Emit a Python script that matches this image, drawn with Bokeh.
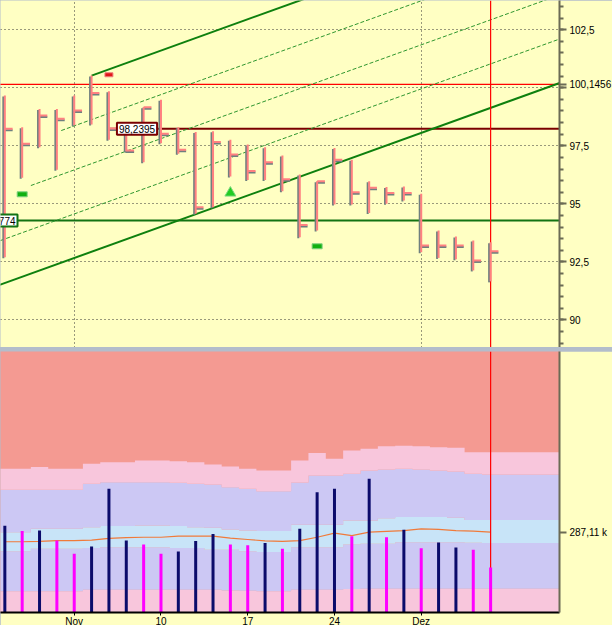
import numpy as np
from bokeh.plotting import figure
from bokeh.layouts import column
from bokeh.models import Range1d, FixedTicker, Label
from bokeh.embed import file_html
from bokeh.resources import INLINE

# ---------------- data ----------------
tick_labels = {4: "Nov", 9: "10", 14: "17", 19: "24", 24: "Dez"}
month_starts = [4, 24]

high = [99.67, 98.30, 99.09, 99.09, 99.67, 100.53, 99.85, 98.10, 99.16, 99.48,
        98.30, 98.09, 98.13, 97.76, 97.56, 97.44, 97.08, 96.26, 95.97, 97.41,
        96.90, 95.97, 95.72, 95.75, 95.43, 93.85, 93.59, 93.42, 93.34]
low = [92.70, 96.12, 97.44, 96.47, 98.38, 98.42, 97.76, 97.27, 96.79, 97.61,
       97.16, 94.57, 94.85, 96.18, 96.03, 96.03, 95.54, 93.56, 93.85, 94.97,
       94.97, 94.61, 95.00, 95.14, 92.91, 92.67, 92.61, 92.13, 91.66]
close = [98.23, 97.59, 98.81, 98.66, 99.02, 99.78, 98.24, 97.30, 99.16, 98.02,
         97.33, 94.85, 97.66, 97.13, 96.41, 96.79, 96.06, 94.09, 95.97, 96.90,
         95.50, 95.69, 95.47, 95.47, 93.20, 93.20, 93.20, 92.56, 92.96]

volume_k = [310, 291, 293, 257, 210, 236, 442, 257, 243, 210,
            218, 256, 281, 243, 240, 248, 228, 299, 430, 442,
            273, 478, 269, 296, 230, 250, 232, 224, 161]
volume_up = [1, 0, 1, 0, 0, 1, 1, 1, 0, 0, 1, 1, 1, 0, 0, 1, 0, 1, 1, 1,
             0, 1, 0, 1, 0, 1, 1, 0, 0]

band_1 = [76, 76, 76, 76, 76, 81, 81, 81, 81, 81, 81, 81, 81, 79, 78, 76, 76, 81,
          81, 81, 84, 85, 85, 85, 85, 85, 85, 85, 85]
band_2 = [219, 219, 228, 228, 228, 231, 233, 233, 233, 233, 231, 231, 224, 224, 219,
          216, 216, 233, 233, 233, 243, 246, 246, 251, 251, 251, 251, 249, 248]
band_3 = [287, 287, 299, 299, 299, 305, 309, 309, 311, 311, 309, 305, 303, 297, 293,
          291, 291, 314, 314, 314, 329, 329, 337, 341, 341, 341, 339, 331, 331]
band_4 = [439, 439, 439, 439, 439, 460, 466, 466, 466, 466, 464, 460, 458, 448, 442,
          433, 433, 465, 490, 490, 496, 508, 511, 514, 511, 508, 504, 496, 493]
band_5 = [514, 514, 520, 514, 514, 532, 537, 537, 543, 543, 541, 537, 529, 522, 514,
          508, 508, 543, 570, 550, 579, 585, 594, 596, 594, 591, 589, 573, 573]
volume_avg = [253, 253, 254, 257, 257, 259, 265, 268, 269, 269, 273, 273, 273, 266,
              261, 256, 254, 257, 269, 284, 275, 287, 290, 293, 299, 297, 293, 291,
              287.11]

price_ticks = [90, 92.5, 95, 97.5, 100, 102.5]
hline_red = 100.1456
hline_maroon = 98.2395
hline_maroon_from = 6
hline_green = 94.2774
hline_green_visible_text = "774"   # only the tail of its label shows at the left edge

channel_lo = (-2, 91.05)      # start of lower channel line (bar index, price)
channel_hi_idx = 5            # bar where upper line starts
channel_slope = 0.2694        # price per bar
channel_width = 7.59          # price distance lower -> upper
channel_levels = [0.25, 0.5, 0.75]

signal_green_x, signal_green_y = [1, 18], [95.41, 93.17]
signal_tri_x, signal_tri_y = [13], [95.47]
signal_red_x, signal_red_y = [6], [100.56]
cursor_idx = 28

# ---------------- styling ----------------
BG = "#ffffc3"
BAR = "#ff8080"
SHADOW = "#6f7f7f"
AXIS = "#6b6b55"
FONT = "Liberation Sans"
SALMON = "#f49a92"
PINKB = "#f8c6dc"
LAV = "#ccc8f4"
LBLUE = "#c8e4f8"

XR = (-0.25, 31.97)
YR = (88.81, 103.76)
FW, FH = 559, 347
VR = (0, 933)
FH2 = 261

n = len(high)
idx = list(range(n))

def fmt(v, d=None):
    s = f"{v:g}" if d is None else f"{v:.{d}f}"
    return s.replace(".", ",")

# ---------------- top panel ----------------
p = figure(frame_width=FW, frame_height=FH, x_range=Range1d(*XR), y_range=Range1d(*YR),
           x_axis_location=None, y_axis_location="right", toolbar_location=None,
           output_backend="svg", min_border_left=0, min_border_right=53,
           min_border_top=0, min_border_bottom=0, background_fill_color=BG,
           border_fill_color=BG, outline_line_color=None)

axis_ticks = price_ticks + [hline_red]
axis_labels = {t: fmt(t) for t in price_ticks}
axis_labels[100] = ""
axis_labels[hline_red] = fmt(hline_red, 4)
p.yaxis.ticker = FixedTicker(ticks=axis_ticks,
                             minor_ticks=list(np.arange(89, 104, 0.5)))
p.yaxis.major_label_overrides = axis_labels
p.yaxis.axis_line_color = AXIS
p.yaxis.axis_line_width = 2
p.yaxis.major_tick_line_color = AXIS
p.yaxis.minor_tick_line_color = AXIS
p.yaxis.major_tick_line_width = 2
p.yaxis.minor_tick_line_width = 2
p.yaxis.major_tick_in = 0
p.yaxis.major_tick_out = 7
p.yaxis.minor_tick_in = 0
p.yaxis.minor_tick_out = 4
p.yaxis.major_label_standoff = 3
p.yaxis.major_label_text_font = FONT
p.yaxis.major_label_text_font_size = "10px"
p.yaxis.major_label_text_color = "black"

p.ygrid.ticker = FixedTicker(ticks=price_ticks)
p.ygrid.grid_line_color = "#333333"
p.ygrid.grid_line_dash = "1 3"
p.xgrid.ticker = FixedTicker(ticks=month_starts)
p.xgrid.grid_line_color = "#333333"
p.xgrid.grid_line_dash = "1 3"

xl, xr = XR[0] - 1, XR[1] + 1

# horizontal lines
p.segment(x0=[xl], y0=[hline_green], x1=[xr], y1=[hline_green], line_color="#137313", line_width=2)
p.segment(x0=[hline_maroon_from], y0=[hline_maroon], x1=[xr], y1=[hline_maroon],
          line_color="#7a0000", line_width=2)
p.segment(x0=[xl], y0=[hline_red], x1=[xr], y1=[hline_red], line_color="#ff0000", line_width=1.2)

# channel
def chan(f, x):
    return channel_lo[1] + channel_slope * (x - channel_lo[0]) + f * channel_width

for f in [0.0, 1.0]:
    x0 = channel_lo[0] + f * (channel_hi_idx - channel_lo[0])
    p.segment(x0=[x0], y0=[chan(f, x0)], x1=[xr], y1=[chan(f, xr)],
              line_color="#0e800e", line_width=2)
for f in channel_levels:
    x0 = channel_lo[0] + f * (channel_hi_idx - channel_lo[0])
    p.segment(x0=[x0], y0=[chan(f, x0)], x1=[xr], y1=[chan(f, xr)],
              line_color="#2f962f", line_width=1, line_dash="4 2")

# cursor
p.segment(x0=[cursor_idx], y0=[YR[0]], x1=[cursor_idx], y1=[YR[1]], line_color="#ff0000", line_width=1.2)

# HLC bars
dxp = (XR[1] - XR[0]) / FW
dyp = (YR[1] - YR[0]) / FH
tick_len = 0.45
p.segment(x0=[i - 1.5 * dxp for i in idx], y0=[v - dyp for v in low],
          x1=[i - 1.5 * dxp for i in idx], y1=[v - dyp for v in high],
          line_color=SHADOW, line_width=2)
p.segment(x0=[i - dxp for i in idx], y0=[v - 1.5 * dyp for v in close],
          x1=[i + tick_len for i in idx], y1=[v - 1.5 * dyp for v in close],
          line_color=SHADOW, line_width=2)
p.segment(x0=idx, y0=low, x1=idx, y1=high, line_color=BAR, line_width=2)
p.segment(x0=idx, y0=close, x1=[i + tick_len for i in idx], y1=close, line_color=BAR, line_width=2)

# signals
p.rect(x=signal_green_x, y=signal_green_y, width=10, height=5, width_units="screen",
       height_units="screen", fill_color="#10b010", line_color="#7fd07f", line_width=1)
p.scatter(x=signal_tri_x, y=signal_tri_y, marker="triangle", size=11,
          fill_color="#22cc22", line_color="#7fd87f", line_width=1)
p.rect(x=signal_red_x, y=signal_red_y, width=8, height=4, width_units="screen",
       height_units="screen", fill_color="#e01818", line_color="#f08080", line_width=1)

# price labels
p.add_layout(Label(x=hline_maroon_from, y=hline_maroon, x_offset=8, text=fmt(hline_maroon, 4),
                   text_baseline="middle", text_align="left", text_font=FONT,
                   text_font_size="10px", text_color="black", background_fill_color="white",
                   border_line_color="#7a0000", border_line_width=2, padding=2))
p.add_layout(Label(x=XR[0], y=hline_green, x_offset=17, text=hline_green_visible_text,
                   text_baseline="middle", text_align="right", text_font=FONT,
                   text_font_size="10px", text_color="black", background_fill_color="white",
                   border_line_color="#137313", border_line_width=2, padding=2))

# ---------------- bottom panel ----------------
q = figure(frame_width=FW, frame_height=FH2, x_range=p.x_range, y_range=Range1d(*VR),
           y_axis_location="right", toolbar_location=None, output_backend="svg",
           min_border_left=0, min_border_right=53, min_border_top=0, min_border_bottom=0,
           background_fill_color=SALMON, border_fill_color=BG, outline_line_color=None)
q.grid.visible = False

xs = [-1] + idx + [n + k for k in range(5)]
def pad(a):
    return [a[0]] + list(a) + [a[-1]] * 5

zeros = [0] * len(xs)
for lo_, hi_, col in [(zeros, pad(band_1), PINKB), (pad(band_1), pad(band_2), LAV),
                      (pad(band_2), pad(band_3), LBLUE), (pad(band_3), pad(band_4), LAV),
                      (pad(band_4), pad(band_5), PINKB)]:
    q.varea_step(x=xs, y1=lo_, y2=hi_, step_mode="center", fill_color=col)

q.line(idx, volume_avg, line_color="#f07a3a", line_width=1.2)
q.segment(x0=[cursor_idx], y0=[VR[0]], x1=[cursor_idx], y1=[VR[1]], line_color="#ff0000", line_width=1.2)
vcol = ["#0b0b6b" if u else "#ff00ff" for u in volume_up]
q.segment(x0=idx, y0=[0] * n, x1=idx, y1=volume_k, line_color=vcol, line_width=3)

q.yaxis.ticker = FixedTicker(ticks=[volume_avg[-1]])
q.yaxis.major_label_overrides = {volume_avg[-1]: fmt(volume_avg[-1], 2) + " k"}
q.yaxis.axis_line_color = AXIS
q.yaxis.axis_line_width = 2
q.yaxis.major_tick_line_color = AXIS
q.yaxis.major_tick_line_width = 2
q.yaxis.major_tick_in = 0
q.yaxis.major_tick_out = 7
q.yaxis.minor_tick_line_color = None
q.yaxis.major_label_standoff = 3
q.yaxis.major_label_text_font = FONT
q.yaxis.major_label_text_font_size = "10px"
q.yaxis.major_label_text_color = "black"

q.xaxis.ticker = FixedTicker(ticks=list(tick_labels))
q.xaxis.major_label_overrides = tick_labels
q.xaxis.axis_line_color = "black"
q.xaxis.axis_line_width = 2
q.xaxis.major_tick_line_color = "black"
q.xaxis.major_tick_in = 0
q.xaxis.major_tick_out = 3
q.xaxis.minor_tick_line_color = None
q.xaxis.major_label_standoff = 0
q.xaxis.major_label_text_font = FONT
q.xaxis.major_label_text_font_size = "10px"
q.xaxis.major_label_text_color = "black"

layout = column(p, q, spacing=4, styles={"background-color": "#b3bdcb", "overflow": "hidden"})

open("out.html", "w").write(file_html(layout, INLINE))
